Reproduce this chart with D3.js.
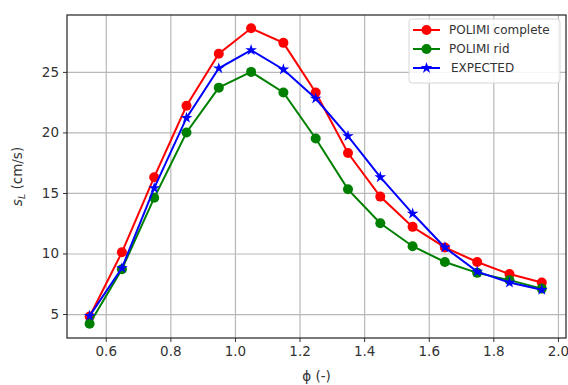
<!DOCTYPE html>
<html>
<head>
<meta charset="utf-8">
<script src="https://cdn.jsdelivr.net/npm/d3@7"></script>
<style>
	body { margin: 0; background: #fff; }
	text { font-family: "DejaVu Sans", sans-serif; fill: #333; }
</style>
</head>
<body>
<div class="chart"></div>
<script>
// data
const phi = [0.55, 0.65, 0.75, 0.85, 0.95, 1.05, 1.15, 1.25, 1.35, 1.45, 1.55, 1.65, 1.75, 1.85, 1.95];
const polimiComplete = [4.8, 10.1, 16.3, 22.2, 26.5, 28.6, 27.4, 23.3, 18.3, 14.7, 12.2, 10.5, 9.3, 8.3, 7.6];
const polimiRid = [4.2, 8.7, 14.6, 20.0, 23.7, 25.0, 23.3, 19.5, 15.3, 12.5, 10.6, 9.3, 8.4, 7.8, 7.1];
const expected = [4.85, 8.8, 15.4, 21.2, 25.3, 26.8, 25.2, 22.8, 19.7, 16.3, 13.3, 10.5, 8.5, 7.6, 7.0];
const xTicks = [0.6, 0.8, 1.0, 1.2, 1.4, 1.6, 1.8, 2.0];
const yTicks = [5, 10, 15, 20, 25];

const series = [
	{ name: 'POLIMI complete', values: polimiComplete, color: '#ff0000', marker: 'circle' },
	{ name: 'POLIMI rid', values: polimiRid, color: '#008000', marker: 'circle' },
	{ name: 'EXPECTED', values: expected, color: '#0000ff', marker: 'star' }
];

const outerW = 568,
	outerH = 385;

const margin = { left: 67, right: 2, top: 15, bottom: 47 };
const w = outerW - margin.left - margin.right,
	h = outerH - margin.top - margin.bottom;

const x = d3.scaleLinear().domain([0.48, 2.025]).range([0, w]);
const y = d3.scaleLinear().domain([3.02, 29.7]).range([h, 0]);

const svg = d3.select('.chart').append('svg')
	.attr('width', outerW)
	.attr('height', outerH);

const g = svg.append('g')
	.attr('transform', `translate(${margin.left}, ${margin.top})`);

// grid + axes
const xAxis = g.append('g')
	.attr('class', 'x axis')
	.attr('transform', `translate(0, ${h})`)
	.call(d3.axisBottom(x)
		.tickValues(xTicks)
		.tickFormat(d3.format('.1f'))
		.tickSize(-h)
		.tickSizeOuter(0)
		.tickPadding(8)
	);

const yAxis = g.append('g')
	.attr('class', 'y axis')
	.call(d3.axisLeft(y)
		.tickValues(yTicks)
		.tickSize(-w)
		.tickSizeOuter(0)
		.tickPadding(8)
	);

g.selectAll('.axis .domain').remove();
g.selectAll('.axis .tick line')
	.attr('stroke', '#b8b8b8')
	.attr('stroke-width', 1.2);
g.selectAll('.axis .tick text')
	.style('font-size', '13.5px');

// small outward ticks
xAxis.selectAll('.tick').append('line')
	.attr('y1', 0).attr('y2', 4)
	.attr('stroke', '#333');
yAxis.selectAll('.tick').append('line')
	.attr('x1', 0).attr('x2', -4)
	.attr('stroke', '#333');

// lines + markers
const line = d3.line()
	.x((d, i) => x(phi[i]))
	.y(d => y(d));

const star = d3.symbol().type(d3.symbolStar).size(42);

series.forEach(s => {
	g.append('path')
		.datum(s.values)
		.attr('fill', 'none')
		.attr('stroke', s.color)
		.attr('stroke-width', 2)
		.attr('d', line);

	if (s.marker === 'circle') {
		g.selectAll(null)
			.data(s.values)
			.enter().append('circle')
			.attr('cx', (d, i) => x(phi[i]))
			.attr('cy', d => y(d))
			.attr('r', 5)
			.attr('fill', s.color);
	} else {
		g.selectAll(null)
			.data(s.values)
			.enter().append('path')
			.attr('d', star)
			.attr('transform', (d, i) => `translate(${x(phi[i])}, ${y(d)})`)
			.attr('fill', s.color);
	}
});

// frame
g.append('rect')
	.attr('width', w)
	.attr('height', h)
	.attr('fill', 'none')
	.attr('stroke', '#222')
	.attr('stroke-width', 1.2);

// legend
const legend = g.append('g')
	.attr('transform', `translate(${409 - margin.left}, ${19 - margin.top})`);

legend.append('rect')
	.attr('width', 151)
	.attr('height', 64)
	.attr('rx', 3)
	.attr('fill', 'rgba(255,255,255,0.85)')
	.attr('stroke', '#d6d6d6');

series.forEach((s, i) => {
	const row = legend.append('g')
		.attr('transform', `translate(0, ${11 + i * 19})`);
	row.append('line')
		.attr('x1', 4).attr('x2', 31)
		.attr('stroke', s.color)
		.attr('stroke-width', 2);
	if (s.marker === 'circle') {
		row.append('circle').attr('cx', 17.5).attr('r', 5).attr('fill', s.color);
	} else {
		row.append('path').attr('d', star).attr('transform', 'translate(17.5, 0)').attr('fill', s.color);
	}
	row.append('text')
		.attr('x', i === 2 ? 42 : 40)
		.attr('dy', '0.35em')
		.style('font-size', '12px')
		.text(s.name);
});

// axis titles
svg.append('text')
	.attr('x', margin.left + w / 2)
	.attr('y', 381)
	.attr('text-anchor', 'middle')
	.style('font-size', '13.5px')
	.text('\u03d5 (-)');

const yTitle = svg.append('text')
	.attr('transform', `translate(22, ${margin.top + h / 2}) rotate(-90)`)
	.attr('text-anchor', 'middle')
	.style('font-size', '13.5px');
yTitle.append('tspan').style('font-style', 'italic').text('s');
yTitle.append('tspan').attr('dy', 3).style('font-size', '9.5px').style('font-style', 'italic').text('L');
yTitle.append('tspan').attr('dy', -3).text(' (cm/s)');
</script>
</body>
</html>
